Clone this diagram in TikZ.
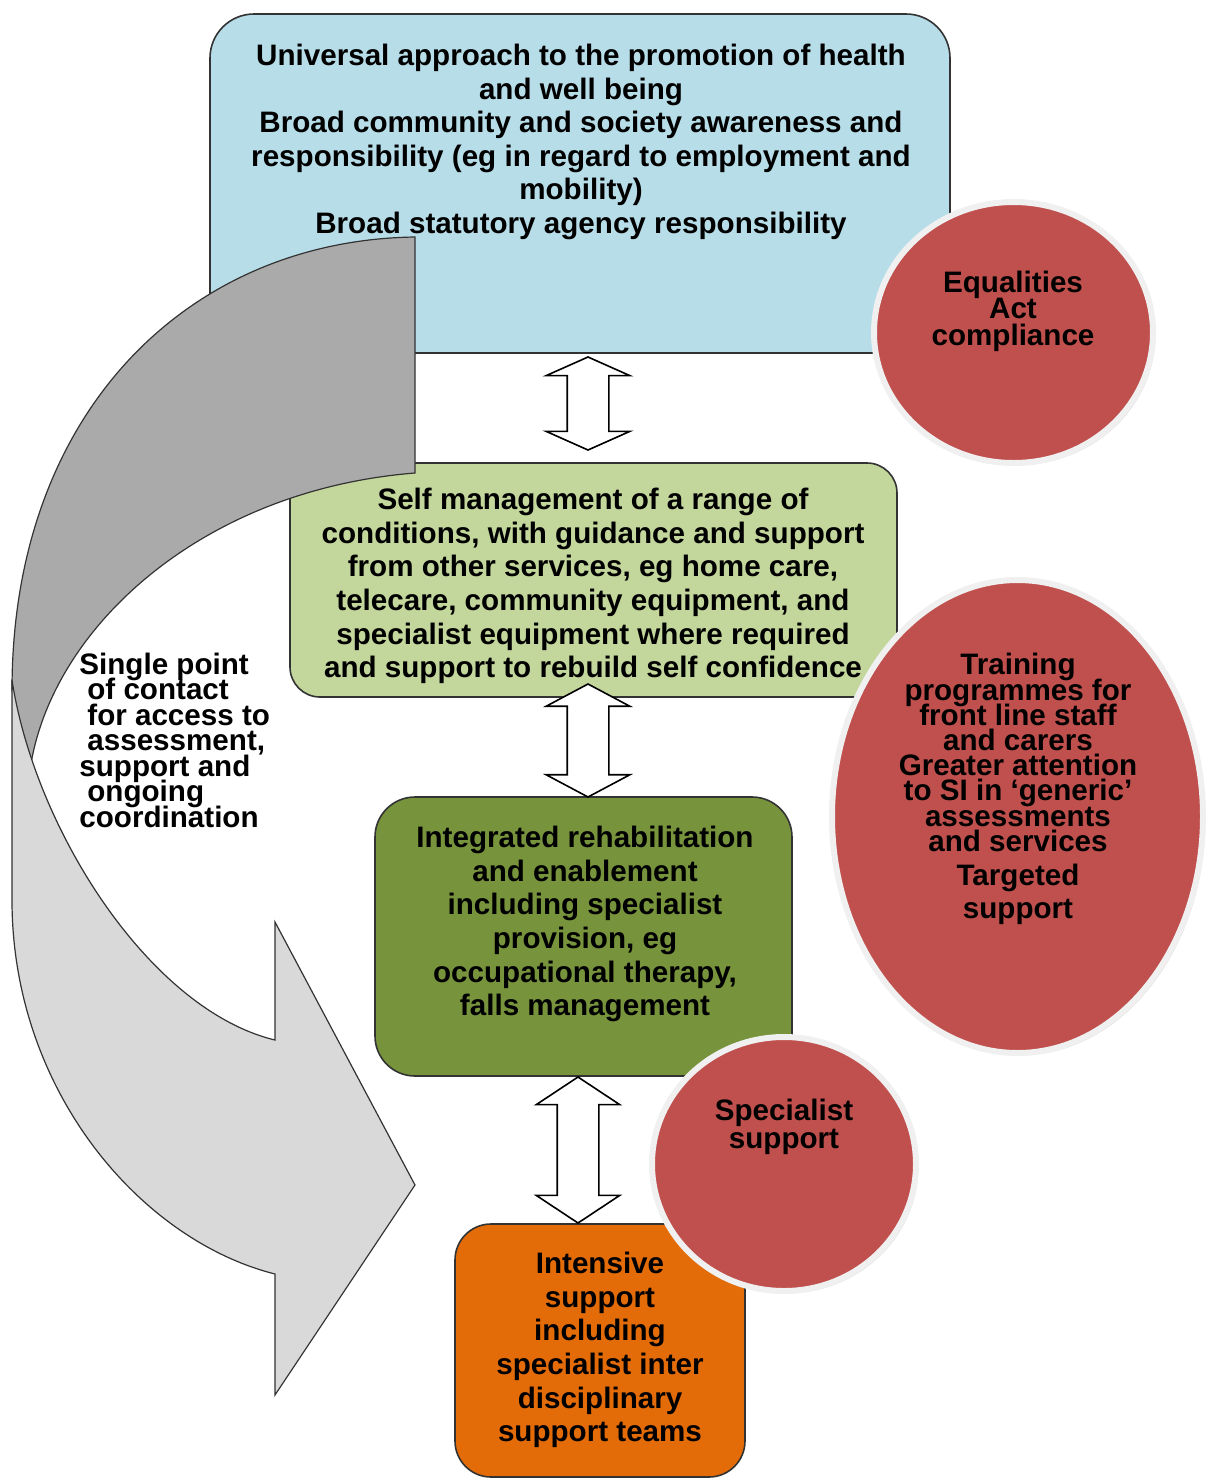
\documentclass[tikz,border=0pt]{standalone}
\usepackage{fontspec}
\setmainfont{Liberation Sans}
\usetikzlibrary{shapes.geometric,shapes.arrows,shadows}
\definecolor{boxblue}{HTML}{B7DDE8}
\definecolor{boxgreen}{HTML}{C3D69B}
\definecolor{boxolive}{HTML}{77933C}
\definecolor{boxorange}{HTML}{E36C09}
\definecolor{blobred}{HTML}{C0504D}
\definecolor{backgray}{HTML}{AAAAAA}
\definecolor{frontgray}{HTML}{D9D9D9}
\newcommand\tightlines{\lineskiplimit -20pt\relax}

\begin{document}
\begin{tikzpicture}[x=0.5pt, y=-0.5pt,
	box/.style={draw=black!80, line width=0.8pt, rounded corners=20pt, inner sep=0pt},
	txt/.style={font=\bfseries\fontsize{14.8}{#1}\selectfont\tightlines, align=center, inner sep=0pt},
	txt/.default=16.8,
	blob/.style={ellipse, fill=blobred, draw=black!6, line width=3pt, inner sep=0pt,
		drop shadow={shadow xshift=1.2pt, shadow yshift=-1.2pt, opacity=0.3}},
	twoway/.style={double arrow, draw=black, fill=white, line width=0.8pt, rotate=90,
		inner xsep=0pt, inner ysep=10pt, minimum width=41pt, double arrow head extend=10.5pt}]
			\useasboundingbox (0,0) rectangle (1210,1479);

			\node[box, fill=boxblue, minimum width=370pt, minimum height=169.5pt, rounded corners=22pt] (univ) at (580,183.5) {};
			\node[box, fill=boxgreen, minimum width=303.5pt, minimum height=117pt, rounded corners=15pt] (self) at (593.5,580) {};
			\node[box, fill=boxolive, minimum width=208.5pt, minimum height=139.5pt] (rehab) at (583.5,936.5) {};
			\node[box, fill=boxorange, minimum width=145pt, minimum height=126.5pt, rounded corners=18pt] (intens) at (600,1350.5) {};

			\node[txt] (univtxt) at (581,142) {Universal approach to the promotion of health\\ and well being\\ Broad community and society awareness and\\ responsibility (eg in regard to employment and\\ mobility)\\ Broad statutory agency responsibility};
			\node[txt] (selftxt) at (593,586) {Self management of a range of\\ conditions, with guidance and support\\ from other services, eg home care,\\ telecare, community equipment, and\\ specialist equipment where required\\ and support to rebuild self confidence};
			\node[txt] (rehabtxt) at (585,924) {Integrated rehabilitation\\ and enablement\\ including specialist\\ provision, eg\\ occupational therapy,\\ falls management};
			\node[txt] (intenstxt) at (600,1350) {Intensive\\ support\\ including\\ specialist inter\\ disciplinary\\ support teams};

			\draw[fill=backgray, draw=black!80, line width=0.6pt] (415,237) .. controls (190,240) and (12,410) .. (12,690)
				-- (30,770) .. controls (50,630) and (200,490) .. (415,473) -- cycle;
			\draw[fill=frontgray, draw=black!80, line width=0.6pt] (12,680) -- (12,900) .. controls (12,1090) and (140,1240) .. (275,1274)
				-- (275,1395) -- (415,1185) -- (275,922) -- (275,1040) .. controls (150,1010) and (35,830) .. (12,680) -- cycle;

			\node[txt=12.75, align=left, anchor=west] (single) at (79,740) {Single point\\ \hspace{4pt}of contact\\ \hspace{4pt}for access to\\ \hspace{4pt}assessment,\\ support and\\ \hspace{4pt}ongoing\\ coordination};

			\node[twoway, minimum height=46.5pt, double arrow tip angle=132] (ar1) at (588,403.5) {};
			\node[twoway, minimum height=56.5pt, double arrow tip angle=124] (ar2) at (588,740.5) {};
			\node[twoway, minimum height=73pt, double arrow tip angle=113] (ar3) at (578,1150) {};

			\node[blob, minimum width=139.5pt, minimum height=130.5pt] (equal) at (1013.5,332.5) {};
			\node[blob, minimum width=185.5pt, minimum height=236.5pt] (train) at (1017.5,816.5) {};
			\node[blob, minimum width=132pt, minimum height=127pt] (spec) at (784,1164) {};

			\node[txt=13.25] (equaltxt) at (1013,311) {Equalities\\ Act\\ compliance};
			\node[txt=12.6] (traintxt) at (1018,789) {Training\\ programmes for\\ front line staff\\ and carers\\ Greater attention\\ to SI in ‘generic’\\ assessments\\ and services\\[4.4pt] Targeted\\[3.9pt] support};
			\node[txt=14] (spectxt) at (784,1127) {Specialist\\ support};
		\end{tikzpicture}
\end{document}
